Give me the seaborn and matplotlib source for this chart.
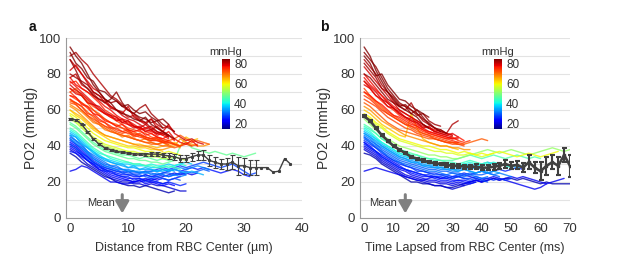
import numpy as np
import pandas as pd
import matplotlib
matplotlib.use("Agg")
import matplotlib.pyplot as plt
from matplotlib.colors import Normalize
from matplotlib.ticker import MultipleLocator
import seaborn as sns

# ---------------- data ----------------
# Panel a: distance from RBC center (um), step 1 um; each trace: colour value (mmHg) and PO2 values
a_step = 1.0
a_colors = [85, 82, 80, 80, 78, 76, 74, 72, 84, 83, 74, 72, 68, 60, 55, 48, 45, 35, 30, 27,
            24, 22, 20, 18, 22, 25, 28, 72, 65, 33, 38, 58, 63, 75, 78,
            80, 79, 77, 75, 73, 81, 86, 69, 32, 29, 26, 23, 36, 42, 47]
a_traces = [
    [95, 90, 86, 80, 74, 70, 66, 64, 60, 58, 57, 55, 54, 56, 52, 50, 48, 46, 44],
    [90, 92, 88, 85, 80, 76, 72, 68, 66, 63, 60, 58, 55, 53, 50, 48, 47, 45],
    [88, 84, 80, 76, 72, 70, 66, 62, 60, 58, 62, 56, 54, 52, 55, 50, 48, 52, 47, 45, 43, 44, 42, 41],
    [82, 85, 80, 75, 70, 68, 64, 62, 60, 57, 55, 54, 52, 50, 49, 51, 48, 46],
    [78, 74, 72, 70, 68, 65, 62, 60, 57, 55, 54, 52, 50, 49, 48, 47, 46, 48, 44, 42, 41, 43, 40],
    [75, 76, 72, 70, 67, 64, 60, 58, 56, 54, 53, 51, 50, 48, 47, 45, 44, 43],
    [72, 70, 68, 65, 62, 60, 58, 56, 54, 52, 50, 49, 48, 47, 45, 44, 43, 42, 41, 40],
    [70, 72, 68, 64, 60, 58, 55, 53, 52, 50, 49, 48, 46, 45, 44, 44, 42],
    [88, 82, 75, 72, 68, 66, 64, 66, 70, 64, 60, 58, 56, 55, 53, 54, 50],
    [80, 78, 76, 74, 70, 68, 66, 64, 65, 62, 60, 58, 61, 63, 58, 55, 52, 50, 48],
    [68, 66, 64, 62, 60, 57, 55, 53, 51, 50, 48, 47, 46, 45, 44, 43, 42, 42, 41, 40, 41, 40],
    [65, 64, 62, 59, 56, 53, 51, 49, 47, 46, 45, 44, 43, 42, 41, 41, 40, 40, 39, 40, 42, 40, 41],
    [62, 60, 57, 54, 51, 48, 46, 45, 44, 43, 42, 41, 40, 40, 39, 38, 38, 39, 40, 44, 42, 41, 40, 40, 41],
    [58, 56, 53, 50, 47, 45, 43, 42, 41, 40, 39, 39, 38, 37, 37, 36, 36, 37, 36, 35],
    [55, 53, 50, 47, 44, 42, 40, 39, 38, 37, 37, 36, 35, 35, 34, 34, 33, 33, 34, 33, 32],
    [52, 50, 47, 44, 41, 39, 37, 36, 35, 34, 33, 33, 32, 32, 31, 31, 30, 31, 32, 40, 42, 39, 38, 37, 36, 37, 36, 35, 36, 35, 34, 35, 36],
    [50, 48, 45, 42, 39, 37, 35, 34, 33, 32, 31, 30, 30, 29, 29, 28, 28, 29, 28, 27],
    [47, 45, 42, 39, 37, 34, 32, 31, 30, 29, 28, 28, 27, 27, 27, 26, 26, 27, 26],
    [45, 43, 40, 37, 34, 32, 30, 29, 28, 27, 26, 26, 25, 25, 25, 24, 25, 25, 24, 25, 26, 25, 26, 27, 26],
    [43, 41, 38, 35, 32, 30, 28, 27, 26, 25, 24, 24, 23, 24, 23, 23, 24, 23, 24, 25, 24],
    [42, 40, 37, 34, 31, 29, 27, 25, 24, 23, 22, 22, 22, 21, 22, 21, 22, 21, 22, 23],
    [40, 38, 35, 32, 29, 27, 25, 23, 22, 21, 21, 20, 20, 21, 20, 20, 19, 20],
    [38, 36, 33, 30, 28, 26, 24, 22, 21, 20, 20, 19, 19, 18, 19, 18, 18, 17, 16, 15, 15],
    [36, 34, 31, 29, 27, 25, 23, 22, 20, 19, 18, 18, 17, 18, 17, 16, 15, 14, 15],
    [26, 27, 29, 28, 26, 24, 22, 20, 20, 19, 19, 20, 21, 22, 21, 22, 23, 24, 25, 24, 25, 24, 25],
    [37, 36, 34, 32, 30, 28, 27, 26, 25, 24, 24, 23, 23, 24, 23, 24, 25, 26, 27, 26, 27, 28, 27, 28, 27, 26, 25, 26, 27, 26, 24, 23],
    [41, 39, 36, 33, 31, 29, 28, 27, 26, 26, 25, 25, 25, 26, 26, 27, 28, 27, 28, 29, 28, 29, 30, 31, 30, 29, 28, 29, 30, 28, 26, 24, 25],
    [66, 63, 60, 57, 54, 52, 50, 48, 47, 46, 45, 44, 43, 42, 42, 41, 42, 43, 44, 46, 44, 42, 43, 42, 41],
    [60, 58, 56, 53, 50, 48, 46, 45, 44, 43, 42, 41, 41, 40, 40, 39, 40, 41, 42, 40, 45, 43, 44],
    [44, 42, 39, 36, 33, 31, 29, 28, 27, 27, 26, 26, 26, 25, 26, 26, 27, 26, 27, 28, 27, 28, 29, 28, 27],
    [48, 46, 43, 40, 37, 35, 33, 32, 31, 30, 30, 29, 29, 29, 28, 28, 29, 30, 29, 30, 31, 30],
    [57, 54, 51, 48, 45, 43, 41, 40, 39, 38, 37, 37, 36, 36, 35, 35, 35, 34],
    [60, 57, 55, 52, 49, 47, 45, 43, 42, 41, 40, 40, 39, 39, 38, 38, 37],
    [70, 67, 64, 61, 58, 55, 53, 51, 49, 48, 47, 46, 45, 44, 43, 43, 42, 41],
    [76, 73, 70, 67, 64, 61, 58, 56, 55, 53, 52, 51, 49, 50, 51, 48, 46, 44],
    [74, 71, 69, 66, 63, 62, 59, 57, 56, 53, 54, 51, 50, 52, 49, 47, 48, 45],
    [72, 69, 68, 64, 63, 60, 58, 57, 54, 55, 52, 50, 51, 48, 49, 46, 47],
    [68, 67, 63, 62, 58, 57, 54, 53, 51, 52, 49, 48, 49, 46, 47, 45, 44, 46, 43],
    [66, 64, 62, 58, 57, 54, 53, 50, 50, 48, 49, 46, 47, 45, 44, 45, 43, 42],
    [64, 63, 60, 57, 55, 53, 51, 50, 48, 47, 48, 45, 46, 44, 43, 44, 42, 43, 41],
    [78, 80, 74, 72, 69, 66, 65, 61, 60, 59, 56, 57, 54, 53, 55, 52, 50, 51, 48],
    [92, 86, 83, 78, 76, 71, 70, 67, 65, 62, 63, 60, 58, 59, 56, 54, 55, 52],
    [63, 61, 59, 56, 53, 52, 49, 48, 47, 45, 46, 44, 43, 44, 42, 41, 42, 40, 41, 39],
    [46, 43, 41, 37, 35, 33, 31, 29, 29, 27, 27, 26, 25, 26, 24, 25, 24, 23, 24, 23, 24],
    [44, 41, 39, 36, 33, 31, 29, 28, 27, 25, 26, 24, 24, 23, 22, 23, 22, 21, 22, 21],
    [41, 39, 36, 34, 31, 29, 26, 26, 24, 23, 23, 21, 22, 20, 21, 20, 19, 20, 19, 18, 19],
    [39, 37, 35, 32, 30, 27, 26, 24, 23, 22, 21, 20, 21, 19, 20, 19, 18, 19, 18],
    [46, 45, 41, 39, 36, 34, 33, 31, 30, 30, 28, 29, 27, 28, 27, 26, 27, 26, 27, 26, 25, 26, 25, 24],
    [49, 47, 44, 41, 38, 36, 35, 33, 32, 31, 31, 30, 30, 29, 30, 29, 29, 28, 29, 30, 29],
    [53, 51, 48, 45, 42, 40, 38, 37, 36, 35, 35, 34, 33, 34, 33, 32, 33, 32, 33],
]
a_mean_x = list(range(0, 39))
a_mean = [55, 54.5, 52, 48, 44, 41, 39, 38, 37, 36.5, 36, 35.5, 35.5, 35.5, 35.5, 35.5, 35, 34.5, 34,
          33, 33, 34, 35, 35, 32, 31, 30, 30, 31, 29, 29, 28, 28, 28, 28, 25.5, 26, 33, 30]
a_err = [0.5, 0.5, 0.5, 0.5, 0.5, 0.5, 0.5, 0.5, 0.5, 0.5, 0.5, 0.6, 0.7, 0.8, 0.9, 1.0, 1.2, 1.5, 1.7,
         2.0, 2.0, 2.3, 2.5, 2.6, 3.0, 3.0, 3.0, 3.2, 3.8, 5.0, 4.5, 4.0, 4.0, 0, 0, 0, 0, 0, 0]

# Panel b: time lapsed from RBC center (ms), step 2 ms
b_step = 2.0
b_colors = [85, 84, 82, 80, 78, 76, 74, 72, 84, 74, 68, 64, 58, 52, 46, 42, 34, 30, 27, 24,
            22, 20, 18, 22, 26, 36, 72, 78, 32, 60,
            80, 79, 77, 83, 86, 75, 31, 28, 25, 21, 35, 44, 40]
b_traces = [
    [95, 90, 82, 76, 70, 66, 62, 60, 58, 56, 52, 50],
    [92, 88, 84, 78, 72, 68, 64, 62, 58, 60, 56, 52, 50, 48],
    [88, 84, 80, 74, 70, 65, 62, 60, 64, 58, 54, 52, 50, 48, 47, 52, 54],
    [84, 80, 76, 72, 68, 64, 60, 58, 56, 54, 52, 50, 48, 47, 46, 45],
    [80, 76, 72, 68, 64, 61, 58, 56, 54, 52, 50, 48, 47, 46, 45, 44, 44],
    [76, 72, 68, 65, 62, 60, 57, 55, 53, 51, 49, 47, 46, 45, 44, 43, 42],
    [72, 68, 65, 62, 59, 57, 55, 53, 51, 49, 47, 46, 45, 44, 43, 42, 42, 41],
    [70, 67, 64, 61, 58, 56, 54, 52, 50, 48, 47, 46, 44, 43, 42, 42, 41, 41, 42, 43, 44, 43],
    [80, 78, 74, 70, 66, 64, 62, 63, 60, 58, 55, 53, 50, 49, 47],
    [66, 64, 62, 59, 56, 54, 52, 50, 49, 47, 46, 45, 44, 43, 42, 41, 41, 40],
    [62, 60, 57, 54, 52, 50, 48, 46, 45, 44, 43, 42, 41, 40, 40, 39, 39, 38, 38],
    [60, 58, 55, 52, 50, 48, 46, 45, 58, 50, 44, 42, 41, 40, 40, 39, 38],
    [57, 55, 52, 50, 47, 45, 43, 42, 41, 40, 39, 38, 37, 37, 36, 36, 35, 35, 36, 35, 34, 35, 36],
    [55, 52, 49, 46, 44, 42, 40, 39, 38, 37, 36, 35, 35, 34, 34, 33, 33, 34, 35, 36, 37, 38, 37, 36, 37, 38, 37, 36, 35, 36, 37, 38, 39, 38, 37, 38],
    [52, 50, 47, 44, 42, 40, 38, 37, 36, 35, 34, 33, 33, 32, 32, 32, 33, 34, 35, 34, 33, 34, 35, 34, 33, 34, 35, 34, 33, 34, 33],
    [50, 48, 45, 42, 40, 38, 36, 35, 34, 33, 32, 31, 31, 30, 30, 30, 29, 30, 31, 30, 29, 30, 31, 30, 29, 28],
    [47, 45, 42, 40, 38, 36, 34, 33, 32, 31, 30, 29, 29, 28, 28, 27, 27, 28, 27, 28, 27, 26],
    [45, 43, 41, 38, 36, 34, 32, 31, 30, 29, 28, 27, 27, 26, 26, 25, 25, 24, 25, 24, 24, 25, 24, 23],
    [43, 41, 39, 36, 34, 32, 30, 29, 28, 27, 26, 25, 25, 24, 24, 23, 23, 22, 22, 23, 22, 22, 21, 22, 21, 22],
    [42, 40, 37, 35, 33, 31, 29, 27, 26, 25, 24, 23, 23, 22, 22, 21, 21, 21, 20, 21, 20],
    [40, 38, 36, 33, 31, 29, 27, 26, 24, 23, 22, 21, 21, 20, 20, 19, 20, 19, 20, 21, 20, 21, 22, 21, 22, 23, 22, 23, 22, 21, 20, 19],
    [38, 36, 34, 31, 29, 27, 25, 23, 22, 21, 20, 19, 18, 18, 17, 16, 17, 18, 19, 20],
    [36, 35, 33, 30, 28, 26, 24, 22, 20, 20, 19, 19, 18, 18, 17, 17, 18, 19, 20, 21, 20, 21, 22, 21, 22, 22, 21, 22, 21, 20, 19, 20, 19, 19, 19, 19],
    [26, 27, 28, 27, 26, 25, 24, 23, 22, 21, 21, 22, 23, 22, 23, 22, 23, 24, 23, 22, 21, 22, 23, 22, 21, 20, 19, 18, 17, 16, 17, 19, 20, 21, 22],
    [41, 39, 37, 34, 32, 30, 28, 27, 26, 25, 24, 24, 23, 23, 22, 23, 24, 25, 24, 25, 26, 25, 26, 27, 26, 27, 28, 27],
    [48, 46, 44, 41, 39, 37, 35, 34, 33, 32, 31, 30, 30, 29, 29, 29, 28, 29, 30, 29, 30, 31, 30, 29, 30, 29, 28, 29],
    [64, 62, 59, 56, 53, 51, 49, 48, 47, 46, 45, 44, 44, 43, 42, 42, 41],
    [78, 74, 71, 68, 65, 62, 60, 58, 56, 54, 52, 50, 49, 48, 47, 46],
    [46, 44, 41, 39, 37, 35, 33, 32, 31, 30, 29, 28, 28, 27, 27, 26, 26, 27, 26, 25, 26, 25, 24, 25, 24, 23],
    [58, 56, 53, 51, 48, 46, 44, 43, 42, 41, 40, 40, 39, 38, 38, 37, 36, 37, 36, 35, 36, 35, 36, 37, 36, 35, 34, 35, 36, 35, 34, 35, 36, 37],
    [76, 73, 70, 66, 64, 61, 59, 56, 55, 53, 51, 50, 48, 49, 47, 46],
    [74, 72, 68, 66, 62, 61, 58, 56, 54, 53, 50, 51, 48, 47, 46, 47, 45],
    [70, 68, 65, 63, 60, 57, 56, 54, 52, 51, 49, 48, 47, 46, 45, 44, 45, 43],
    [86, 82, 78, 72, 70, 67, 63, 62, 60, 57, 58, 54, 52, 51],
    [90, 86, 79, 80, 74, 70, 66, 65, 62, 60, 58, 56],
    [68, 66, 63, 60, 58, 56, 54, 52, 51, 50, 48, 47, 46, 45, 44, 45, 43, 42, 43],
    [45, 42, 40, 37, 35, 33, 31, 30, 29, 28, 27, 26, 26, 25, 24, 25, 24, 23, 24, 23, 22, 23],
    [44, 42, 39, 37, 34, 32, 31, 29, 28, 26, 26, 25, 24, 24, 23, 22, 23, 22, 21, 22, 21, 20],
    [42, 39, 37, 34, 32, 30, 28, 27, 25, 24, 23, 23, 22, 21, 21, 20, 21, 20, 19, 20],
    [39, 37, 35, 32, 30, 28, 26, 24, 23, 22, 21, 20, 20, 19, 19, 18, 19, 18],
    [47, 45, 43, 40, 38, 36, 34, 33, 31, 31, 29, 29, 28, 28, 27, 27, 26, 27, 26, 25, 26, 25, 26, 25],
    [51, 49, 47, 44, 42, 40, 38, 37, 35, 35, 33, 33, 32, 32, 31, 31, 30, 31, 32, 31, 30, 31],
    [49, 47, 44, 42, 40, 38, 36, 35, 33, 33, 32, 31, 30, 30, 29, 29, 29, 30, 29, 28],
]
b_mean_x = list(range(0, 72, 2))
b_mean = [56.5, 54, 50, 46, 43, 40, 38, 36, 34, 33, 32, 31, 30.5, 30, 29.5, 29, 29, 28.5,
          28.5, 28.5, 28, 28, 28.5, 29, 30, 29, 29.5, 28, 31, 28, 26, 29, 31, 29, 35, 29]
b_err = [0.6, 0.6, 0.6, 0.6, 0.6, 0.6, 0.6, 0.6, 0.6, 0.6, 0.7, 0.7, 0.8, 0.8, 0.9, 1.0, 1.0, 1.1,
         1.2, 1.3, 1.4, 1.5, 1.6, 1.8, 2.0, 2.0, 2.2, 2.5, 4.0, 3.0, 5.0, 5.0, 4.0, 5.0, 4.0, 6.0]

cbar_ticks = [20, 40, 60, 80]
cbar_range = (15, 85)

# ---------------- plotting ----------------
sns.set_style("white")
plt.rcParams['font.family'] = ['Liberation Sans', 'DejaVu Sans']
TXT = "#333333"
GRID = "#e3e3e3"
SPINE = "#9a9a9a"
JET = matplotlib.colormaps["jet"]

fig = plt.figure(figsize=(6.17, 2.74), dpi=100)
norm = Normalize(*cbar_range)


def to_df(traces, colors, step):
    rows = []
    for i, (tr, c) in enumerate(zip(traces, colors)):
        for j, v in enumerate(tr):
            rows.append((i, j * step, v, c))
    return pd.DataFrame(rows, columns=["trace", "x", "y", "c"])


def panel(rect, traces, colors, step, mx, mm, me, xlim, xmaj, xlabel, letter,
          cbar_rect, arrow_x, text_x, mean_lw, ms, cap):
    ax = fig.add_axes(rect)
    df = to_df(traces, colors, step)
    sns.lineplot(data=df, x="x", y="y", hue="c", units="trace", estimator=None,
                 palette=JET, hue_norm=norm, legend=False, lw=1.0, alpha=0.8,
                 ax=ax, sort=False)
    ax.set_xlim(*xlim)
    ax.set_ylim(0, 100)
    ax.yaxis.set_major_locator(MultipleLocator(20))
    ax.yaxis.set_minor_locator(MultipleLocator(10))
    ax.xaxis.set_major_locator(MultipleLocator(xmaj))
    ax.xaxis.set_minor_locator(MultipleLocator(xmaj / 2))
    ax.grid(True, which="both", axis="y", color=GRID, lw=0.8, zorder=0)
    ax.set_axisbelow(True)
    for s in ["top", "right"]:
        ax.spines[s].set_visible(False)
    for s in ["left", "bottom"]:
        ax.spines[s].set_color(SPINE)
        ax.spines[s].set_linewidth(0.8)
    ax.tick_params(which="both", direction="in", colors=SPINE, labelcolor=TXT,
                   labelsize=9.5, length=2.5, width=0.7)
    ax.tick_params(which="minor", length=2)
    ax.set_xlabel(xlabel, fontsize=9, color=TXT, labelpad=5)
    ax.set_ylabel("PO2 (mmHg)", fontsize=10, color=TXT, labelpad=1)

    # mean with error bars
    mx_e = [x for x, e in zip(mx, me) if e > 0]
    mm_e = [m for m, e in zip(mm, me) if e > 0]
    me_e = [e for e in me if e > 0]
    ax.plot(mx, mm, color="#404040", lw=mean_lw, marker="s", ms=ms, zorder=5)
    ax.errorbar(mx_e, mm_e, yerr=me_e, fmt="none", ecolor="#404040",
                elinewidth=mean_lw * 0.8, capsize=cap, capthick=mean_lw * 0.8, zorder=5)

    # arrow + label
    ax.annotate("", xy=(arrow_x, 1), xytext=(arrow_x, 14.5),
                arrowprops=dict(arrowstyle="-|>,head_width=0.4,head_length=0.7",
                                color="#808080", lw=2.2), zorder=6)
    ax.text(text_x, 8.5, "Mean", fontsize=8, color=TXT, ha="right", va="center")

    # panel letter
    fig.text(letter[1], letter[2], letter[0], fontsize=10, fontweight="bold",
             color="#111111", ha="center", va="center")

    # colorbar
    cax = fig.add_axes(cbar_rect)
    sm = matplotlib.cm.ScalarMappable(norm=norm, cmap=JET)
    cb = fig.colorbar(sm, cax=cax, ticks=cbar_ticks)
    cb.outline.set_visible(False)
    cax.tick_params(length=0, labelsize=8.5, labelcolor=TXT, pad=3)
    cax.set_title("mmHg", fontsize=8, color=TXT, pad=3)
    return ax


panel([66 / 617, 56 / 274, 236 / 617, 180 / 274], a_traces, a_colors, a_step,
      a_mean_x, a_mean, a_err, (-0.7, 40), 10, "Distance from RBC Center (\u00b5m)",
      ("a", 32 / 617, 1 - 27 / 274), [222 / 617, 145 / 274, 8 / 617, 70 / 274],
      9, 7.7, 1.0, 1.2, 1.8)
panel([360 / 617, 56 / 274, 210 / 617, 180 / 274], b_traces, b_colors, b_step,
      b_mean_x, b_mean, b_err, (-1.4, 70), 10, "Time Lapsed from RBC Center (ms)",
      ("b", 324 / 617, 1 - 27 / 274), [494 / 617, 145 / 274, 8 / 617, 70 / 274],
      14, 11.3, 1.9, 2.0, 1.8)

fig.savefig("out.png", dpi=100)
